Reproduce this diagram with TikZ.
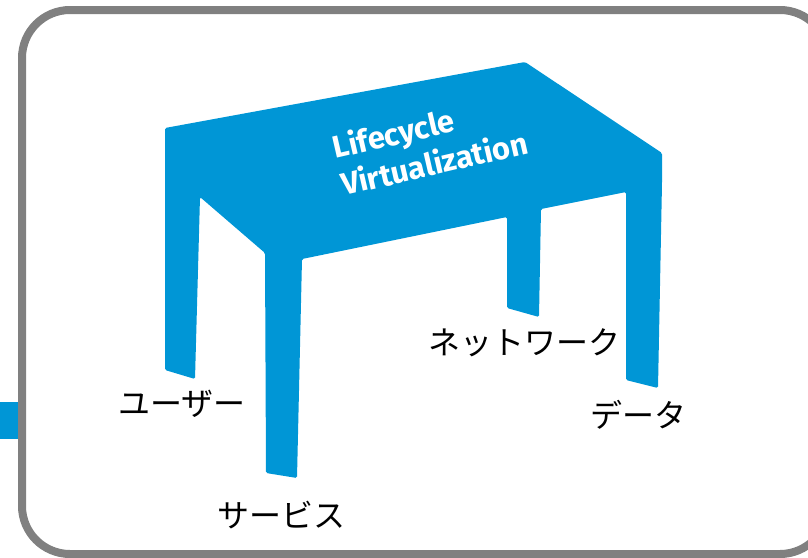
\documentclass[tikz,border=0pt]{standalone}
\usepackage{fontspec}
\newfontfamily\jpfont{Noto Sans CJK JP}
\newfontfamily\titlefont{Fira Sans}
\definecolor{hpblue}{HTML}{0096D6}
\definecolor{framegray}{HTML}{808080}

\begin{document}
\begin{tikzpicture}[x=1pt,y=-1pt,
  leglabel/.style={font=\jpfont\fontsize{32}{38}\selectfont, inner sep=0pt, text=black},
  tabletitle/.style={font=\titlefont\bfseries\fontsize{31}{38}\selectfont, text=white,
    align=left, inner sep=0pt, rotate=13},
  frame/.style={draw=framegray, line width=8pt, rounded corners=48pt}]
\useasboundingbox (0,0) rectangle (808,557);

% side tab and outer frame
\fill[hpblue] (0,402) rectangle (20,439);
\draw[frame] (22,10) rectangle (828,554);

% table: top, apron and four legs as one silhouette
\fill[hpblue, rounded corners=1.5pt]
  (165,128) -- (525,62) -- (662,153) -- (662,183) -- (658,388)
  -- (626,380) -- (626,192) -- (541,209) -- (539,317) -- (507,308)
  -- (507,217) -- (302,259) -- (297,478) -- (266,473) -- (265,253)
  -- (200,197) -- (195,379) -- (165,370) -- cycle;

\node[tabletitle] (title) at (430,144) {Lifecycle\\Virtualization};

% leg labels
\node[leglabel] (user)    at (182,404) {ユーザー};
\node[leglabel] (service) at (281,515) {サービス};
\node[leglabel] (network) at (524,343) {ネットワーク};
\node[leglabel] (data)    at (638,415) {データ};
\end{tikzpicture}
\end{document}
